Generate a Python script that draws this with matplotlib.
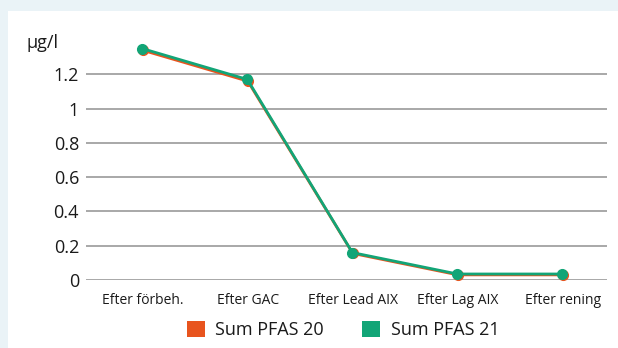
import matplotlib.pyplot as plt
from matplotlib.patches import Rectangle, Patch

# data
categories = ["Efter förbeh.", "Efter GAC", "Efter Lead AIX", "Efter Lag AIX", "Efter rening"]
pfas20 = [1.34, 1.16, 0.155, 0.03, 0.03]
pfas21 = [1.35, 1.17, 0.16, 0.035, 0.035]
yticks = [0, 0.2, 0.4, 0.6, 0.8, 1, 1.2]
ytick_labels = ["0", "0.2", "0.4", "0.6", "0.8", "1", "1.2"]

orange = "#e8541e"
green = "#12a577"

plt.rcParams['font.family'] = ['Open Sans', 'DejaVu Sans']

W, H = 618, 348
fig = plt.figure(figsize=(W / 100, H / 100), dpi=100)
fig.patch.set_facecolor("#eaf3f7")
fig.add_artist(Rectangle((8 / W, 0), 1, 1 - 11 / H, transform=fig.transFigure,
                         facecolor="white", edgecolor="none", zorder=0))

ax = fig.add_axes([86 / W, 1 - 280 / H, (607 - 86) / W, 240 / H])
ax.set_facecolor("none")
x = list(range(len(categories)))
ax.plot(x, pfas20, color=orange, lw=2.0, marker="o", ms=7, clip_on=False, zorder=3)
ax.plot([i - 0.004 for i in x], pfas21, color=green, lw=2.0, marker="o", ms=7,
        clip_on=False, zorder=4)

ax.set_xlim(-0.54, 4.42)
ax.set_ylim(0, 1.4)
ax.set_yticks(yticks)
ax.set_yticklabels(ytick_labels, fontsize=13, color="#1a1a1a")
ax.set_xticks(x)
ax.set_xticklabels(categories, fontsize=10, color="#1a1a1a")
ax.grid(axis="y", color="#999999", lw=1.2)
ax.set_axisbelow(True)
for s in ax.spines.values():
    s.set_visible(False)
ax.tick_params(axis="y", length=0, pad=5)
ax.tick_params(axis="x", length=0, pad=9)

fig.text(27 / W, 1 - 43 / H, "µg/l", fontsize=13, color="#1a1a1a", va="center", ha="left")

handles = [Patch(facecolor=orange, edgecolor="none", label="Sum PFAS 20"),
           Patch(facecolor=green, edgecolor="none", label="Sum PFAS 21")]
fig.legend(handles=handles, loc="center", bbox_to_anchor=(343 / W, 1 - 330 / H), ncol=2,
           frameon=False, fontsize=13, handlelength=1.0, handleheight=1.0,
           handletextpad=0.6, columnspacing=2.1, labelcolor="#1a1a1a")

fig.savefig("out.png", dpi=100, facecolor=fig.get_facecolor())
